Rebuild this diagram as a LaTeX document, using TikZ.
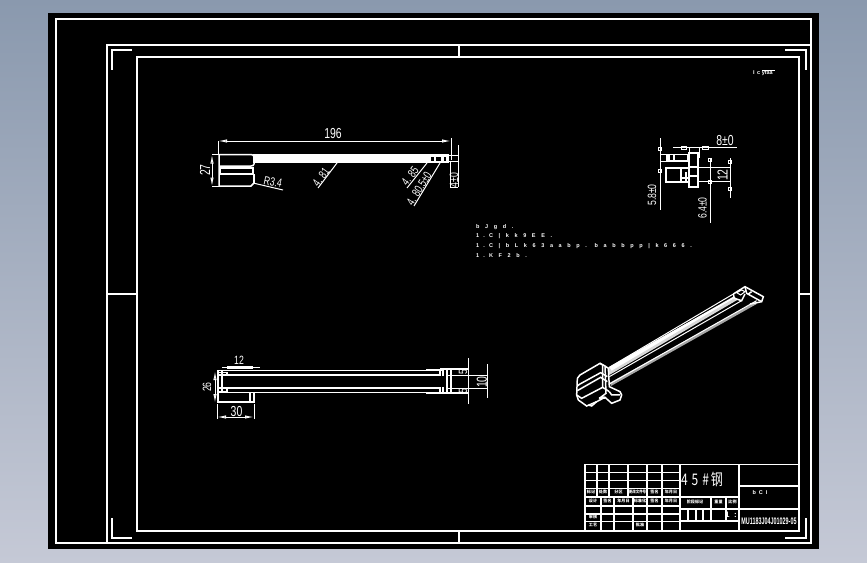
\documentclass[tikz,border=0pt]{standalone}
\usepackage{fontspec}
\setmainfont{Liberation Sans}
\newfontfamily\cjk{Noto Sans CJK SC}
\newfontfamily\spacedfont[LetterSpace=75]{Liberation Sans}
\usetikzlibrary{arrows.meta}
\definecolor{bgtop}{HTML}{8A99AE}
\definecolor{bgbot}{HTML}{C5C9D6}
\tikzset{
 frameline/.style={draw=white,line width=1.8pt,line cap=rect},
 part/.style={draw=white,line width=1.5pt},
 dimthin/.style={draw=white,line width=1pt},
 dimarrow/.style={draw=white,line width=1pt,{Latex[open,length=9pt,width=3.4pt]}-{Latex[open,length=9pt,width=3.4pt]}},
 cad/.style={text=white,inner sep=0pt,transform shape,xscale=.72,font=\fontsize{14.5}{14}\selectfont},
 cadsmall/.style={text=white,inner sep=0pt,transform shape,xscale=.72,font=\fontsize{12}{12}\selectfont},
 tinylabel/.style={text=white,inner sep=0pt,font=\cjk\bfseries\fontsize{4.1}{4}\selectfont},
 notetext/.style={text=white,inner sep=0pt,anchor=west,font=\spacedfont\bfseries\fontsize{5.5}{6}\selectfont},
 grid/.style={draw=white,line width=1.2pt},
}
\begin{document}
\begin{tikzpicture}[x=1pt,y=-1pt]
\useasboundingbox (0,0) rectangle (867,562);
\shade[top color=bgtop,bottom color=bgbot] (0,0) rectangle (867,562);
\fill[black] (48,13) rectangle (819,549);
% frames
\draw[frameline] (56,19) -- (811,19) -- (811,45);
\draw[frameline] (56,19) -- (56,543) -- (811,543);
\draw[frameline] (107,45) rectangle (811,543);
\draw[frameline] (137,57) rectangle (799,531);
\draw[frameline] (112,69) -- (112,50) -- (131,50);
\draw[frameline] (786,50) -- (806,50) -- (806,69);
\draw[frameline] (806,519) -- (806,538) -- (786,538);
\draw[frameline] (112,519) -- (112,538) -- (131,538);
\draw[frameline] (459,45) -- (459,57);
\draw[frameline] (459,531) -- (459,543);
\draw[frameline] (107,294) -- (137,294);
\draw[frameline] (799,294) -- (811,294);
% top right mark
\node[text=white,inner sep=0pt,font=\bfseries\fontsize{5.5}{6}\selectfont] (mark) at (763,73.5) {I \,c yfaa};
\draw[draw=white,line width=.7pt] (762,70.5) -- (775,70.5);

% ===== view 1 =====
\draw[dimarrow] (218,141) -- (451,141);
\draw[dimthin] (218,141) -- (218,155);
\draw[dimthin] (451,138) -- (451,160);
\node[cad] (d196) at (333,133.5) {196};
\fill[white] (253,154) rectangle (428,163);
\fill[white] (428,154) rectangle (449,163);
\fill[black] (431,156.5) rectangle (434,160.5);
\fill[black] (436,156.5) rectangle (441,160.5);
\fill[black] (443.5,156.5) rectangle (446,160.5);
\draw[part] (449,155.5) -- (458,155.5) (449,161.5) -- (458,161.5);
\draw[dimthin] (458,145) -- (458,187);
\draw[dimthin] (450,161) -- (450,187) -- (458,187);
\node[rotate=90,cadsmall] (d4) at (454,180) {4±0};
\draw[part] (219,154.5) -- (251,154.5) to[out=0,in=90] (254,157) -- (254,164) to[out=-90,in=0] (251,166) -- (219,166);
\draw[part] (219,154.5) -- (219,186) -- (251,186) -- (254,183);
\draw[part] (220,168) -- (253,168) -- (253,174) -- (220,174) -- cycle;
\draw[part] (254,174) -- (254,183);
\draw[dimthin] (212,154.5) -- (219,154.5) (212,186.5) -- (219,186.5);
\draw[dimarrow] (212,154.5) -- (212,186.5);
\node[rotate=90,cad] (d27) at (205,170) {27};
\draw[dimthin] (253,183) -- (283,190);
\node[rotate=-12,cadsmall] (dr) at (273,182) {R3.4};
\draw[dimthin] (337,163) -- (318,188);
\node[rotate=54,cadsmall] (d81) at (321,177) {4. 81};
\draw[dimthin] (427,163) -- (407,188);
\node[rotate=52,cadsmall] (d85) at (410,176) {4. 85};
\draw[dimthin] (440,163) -- (414,206);
\node[rotate=58,cadsmall] (d80) at (419,189) {4. 80.5±0};

% ===== view 2 =====
\draw[part,line width=1.8pt] (218,370.5) -- (438,370.5);
\draw[part,line width=2.4pt] (426,370) -- (442,370);
\draw[part] (222,375) -- (440,375);
\draw[part] (222,388) -- (440,388);
\draw[part,line width=1.8pt] (218,392.5) -- (438,392.5);
\draw[part,line width=2.4pt] (426,393) -- (442,393);
\draw[part] (218,370) -- (218,402) -- (254,402) -- (254,392.5);
\draw[part] (222,371) -- (222,392);
\draw[part] (250,392.5) -- (250,402);
\draw[part] (218,372.5) rectangle (227,375);
\draw[part] (218,388) rectangle (227,392);
\draw[part] (440,369) -- (440,376) (443,369) -- (443,376) (447,369) -- (447,392) (451,370) -- (451,392);
\draw[part] (440,387) -- (440,394) (443,387) -- (443,394);
\draw[part] (440,369) -- (468,369) (440,393) -- (468,393);
\draw[dimthin] (447,375) -- (487.5,375) (447,388) -- (487.5,388);
\draw[dimthin] (468,358) -- (468,404);
\draw[dimthin] (487.5,364) -- (487.5,398);
\node[rotate=90,cadsmall] (d5a) at (463,372.5) {5};
\node[rotate=90,cadsmall] (d5b) at (463,391) {5};
\node[rotate=90,cad] (d10) at (482,382) {10};
\draw[dimthin] (222,367) -- (260,367);
\fill[white] (227,366) rectangle (253,369);
\node[cadsmall] (d12) at (239,360.5) {12};
\draw[dimarrow] (215,371) -- (215,403);
\node[rotate=90,cadsmall] (d26) at (207,387) {26};
\draw[dimthin] (217,404) -- (217,419) (254,404) -- (254,419);
\draw[dimarrow] (217,417) -- (254,417);
\node[cad] (d30) at (236.5,412) {30};

% ===== view 3 =====
\draw[dimthin] (660,138) -- (660,210);
\foreach \yy in {147,169}{\draw[part,line width=.9pt] (658.5,\yy) rectangle (661.5,\yy+3);}
\draw[dimthin] (660,154) -- (667,154) (660,161) -- (667,161);
\node[rotate=90,cadsmall] (d58) at (652,195) {5.8±0};
\draw[dimthin] (673,147.5) -- (737,147.5);
\draw[part,line width=.9pt] (681,146) rectangle (686,149);
\draw[part,line width=.9pt] (702,146) rectangle (708,149);
\draw[dimthin] (689,147) -- (689,158) (699,147) -- (699,158);
\node[cad] (d8) at (725,140.5) {8±0};
\draw[part] (667,154.5) rectangle (688,161);
\fill[white] (668,155) rectangle (670,161);
\fill[white] (673,155) rectangle (675,161);
\draw[part] (689,153) rectangle (698,167);
\draw[part] (666,168) rectangle (681,182);
\draw[part] (681,168) -- (690,168) (681,178) -- (690,178);
\draw[part] (686,172) -- (686,182) -- (682,182);
\draw[part] (689,167) rectangle (698,187);
\draw[part] (684,182) -- (689,182);
\draw[part] (689,176) -- (698,176);
\draw[dimthin] (698,167.5) -- (730,167.5) (698,181.5) -- (730,181.5);
\draw[dimthin] (730,158) -- (730,198);
\draw[part,line width=.9pt] (728.5,160) rectangle (731.5,163);
\draw[part,line width=.9pt] (728.5,187) rectangle (731.5,190);
\node[rotate=90,cad] (d12b) at (722.5,175) {12};
\draw[dimthin] (710,158) -- (710,223);
\draw[part,line width=.9pt] (708.5,158) rectangle (711.5,161);
\draw[part,line width=.9pt] (708.5,180) rectangle (711.5,183);
\node[rotate=90,cadsmall] (d64) at (702.5,208) {6.4±0};

% ===== view 4 (isometric) =====
\begin{scope}[shift={(570,280)},x=.3333pt,y=-.3333pt]
\fill[white!85!black] (115,262) -- (490,52) -- (505,58) -- (118,285) -- cycle;
\fill[white] (118,262) -- (490,50) -- (497,52) -- (125,272) -- cycle;
\fill[white!65!black] (120,308) -- (555,66) -- (560,72) -- (123,318) -- cycle;
\draw[part,line width=1pt] (118,262) -- (490,42);
\draw[part,line width=1pt] (118,312) -- (560,62);
\draw[part,line width=1pt] (118,290) -- (515,62);
\draw[part] (22,295) -- (30,285) -- (90,250) -- (105,258) -- (115,265) -- (118,320) -- (150,335) -- (155,345) -- (150,360) -- (125,370) -- (105,352) -- (80,365) -- (50,378) -- (25,360) -- (20,345) -- (22,295);
\draw[part] (22,318) -- (30,312) -- (92,278) -- (112,290);
\draw[part] (22,332) -- (92,292) -- (112,305);
\draw[part] (20,345) -- (35,355) -- (98,322) -- (118,335);
\draw[part] (90,250) -- (98,255) -- (98,322);
\draw[part] (105,258) -- (108,340) -- (92,352) -- (105,352);
\draw[part] (55,375) -- (65,378) -- (80,365);
\fill[white] (88,350) rectangle (105,358);
\draw[part] (118,335) -- (125,345) -- (150,345);
\draw[part] (490,42) -- (525,20) -- (580,50) -- (575,65) -- (552,70) -- (540,72);
\draw[part] (525,20) -- (530,40) -- (575,65);
\draw[part] (490,42) -- (493,55) -- (515,62) -- (525,42);
\draw[part,line width=1pt] (500,38) -- (515,30) -- (525,35) -- (512,45) -- cycle;
\draw[part] (545,35) -- (535,42);
\end{scope}

% ===== notes =====
\node[notetext] (n1) at (476,226.7) {b J g d .};
\node[notetext] (n2) at (476,236) {1.C | k k 9 E E .};
\node[notetext] (n3) at (476,246) {1.C | b L k 6 3 a a b p . b a b b p p | k 6 6 6 .};
\node[notetext] (n4) at (476,255.5) {1.K F 2 b .};

% ===== title block =====
\draw[frameline] (585,464.5) -- (799,464.5);
\draw[grid] (585,464.5) -- (585,531);
\draw[grid] (680,464.5) -- (680,531);
\draw[frameline] (739,464.5) -- (739,531);
\foreach \yy in {472.7,480.7,488.3,506,514,521.7}{\draw[grid] (585,\yy) -- (680,\yy);}
\draw[frameline] (585,497.3) -- (739,497.3);
\foreach \xx in {597,609,628,647,662}{\draw[grid] (\xx,464.5) -- (\xx,497.3);}
\foreach \xx in {601,614,633,647,662}{\draw[grid] (\xx,497.3) -- (\xx,531);}
\draw[grid] (680,509) -- (739,509) (680,521) -- (739,521);
\draw[grid] (711,497.3) -- (711,521) (726,497.3) -- (726,521);
\draw[grid] (688,509) -- (688,521) (696,509) -- (696,521) (703,509) -- (703,521);
\draw[frameline] (739,486) -- (799,486);
\draw[grid] (739,509) -- (799,509);
\node[text=white,inner sep=0pt,font=\cjk\fontsize{16}{16}\selectfont,transform shape,xscale=.75] (mat) at (702,479) {4\,\,5\,\,\#\,钢};
\node[text=white,inner sep=0pt,font=\bfseries\fontsize{5.5}{6}\selectfont] (nm) at (760,493) {b\ \ C\ \ I};
\node[text=white,inner sep=0pt,font=\bfseries\fontsize{9.5}{9}\selectfont,transform shape,xscale=.57] (dwg) at (769,521) {MU1183J04J01029-05};
\node[tinylabel] (t1) at (591,492.3) {标记};
\node[tinylabel] (t2) at (603,492.3) {处数};
\node[tinylabel] (t3) at (618.5,492.3) {分区};
\node[tinylabel,transform shape,xscale=.85] (t4) at (637.5,492.3) {更改文件号};
\node[tinylabel] (t5) at (654.5,492.3) {签名};
\node[tinylabel] (t6) at (671,492.3) {年月日};
\node[tinylabel] (t7) at (593,500.8) {设计};
\node[tinylabel] (t8) at (607.5,500.8) {签名};
\node[tinylabel] (t9) at (623.5,500.8) {年月日};
\node[tinylabel] (t10) at (640,500.8) {标准化};
\node[tinylabel] (t11) at (654.5,500.8) {签名};
\node[tinylabel] (t12) at (671,500.8) {年月日};
\node[tinylabel] (t13) at (593,516.5) {审核};
\node[tinylabel] (t14) at (593,525) {工艺};
\node[tinylabel] (t15) at (640,525) {批准};
\node[tinylabel] (t16) at (695,502) {阶段标记};
\node[tinylabel] (t17) at (718.5,502) {重量};
\node[tinylabel] (t18) at (732.5,502) {比例};
\node[text=white,inner sep=0pt,font=\bfseries\fontsize{8}{8}\selectfont] (ratio) at (731,515) {1\ \ :};
\end{tikzpicture}
\end{document}
